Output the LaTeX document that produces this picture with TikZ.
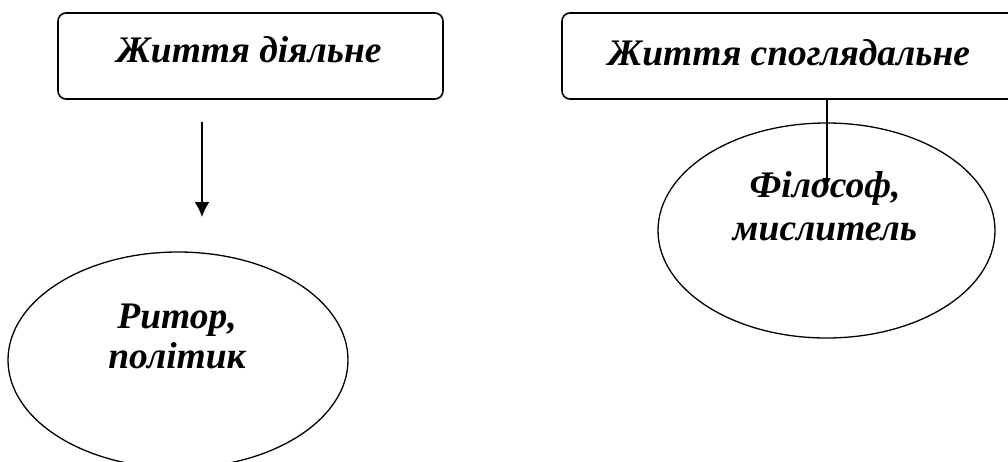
\documentclass[tikz,border=0pt]{standalone}
\usepackage{fontspec}
\setmainfont{Liberation Serif}
\usepackage{tikz}
\usetikzlibrary{shapes.geometric}
\usetikzlibrary{arrows.meta}

\begin{document}
\begin{tikzpicture}[x=1pt,y=-1pt,
  lifebox/.style={draw=drawColor,line width=1.6pt,rounded corners=8pt,inner sep=0pt},
  roleoval/.style={draw=drawColor,ellipse,line width=1.3pt,inner sep=0pt},
  caption/.style={text=drawColor,font=\fontsize{37.5}{45}\selectfont\bfseries\itshape,align=center,inner sep=0pt,outer sep=0pt}]
\definecolor{drawColor}{RGB}{0,0,0}
\definecolor{fillColor}{RGB}{255,255,255}
\path[use as bounding box,fill=fillColor] (0,0) rectangle (1008,461);
\clip (0,0) rectangle (1008,461);

% boxes
\node[lifebox,minimum width=385pt,minimum height=86pt] (active) at (250.5,56) {};
\node[lifebox,minimum width=470pt,minimum height=86pt] (contemplative) at (797,56) {};
\node[caption,anchor=base] (activetext) at (249,62) {Життя діяльне};
\node[caption,anchor=base] (contemplativetext) at (789,65) {Життя споглядальне};

% ellipses
\node[roleoval,minimum width=340pt,minimum height=216pt] (rhetor) at (178,360) {};
\node[roleoval,minimum width=337pt,minimum height=215pt] (philosopher) at (826.5,230.5) {};
\node[caption,anchor=base] (rhetortext) at (177,328) {Ритор,};
\node[caption,anchor=base] (rhetortext2) at (177,368) {політик};
\node[caption,anchor=base] (philtext) at (825,197) {Філософ,};
\node[caption,anchor=base] (philtext2) at (825,240) {мислитель};

% arrows
\coordinate (activestart) at (202,122);
\coordinate (activeend) at (202,217);
\path[draw=drawColor,line width=1.6pt,-{Latex[length=15pt,width=15pt]}] (activestart) -- (activeend);
\coordinate (philend) at (826.5,187);
\path[draw=drawColor,line width=2pt,-{Latex[length=9pt,width=9pt]}] (contemplative.south -| philend) -- (philend);
\end{tikzpicture}
\end{document}
